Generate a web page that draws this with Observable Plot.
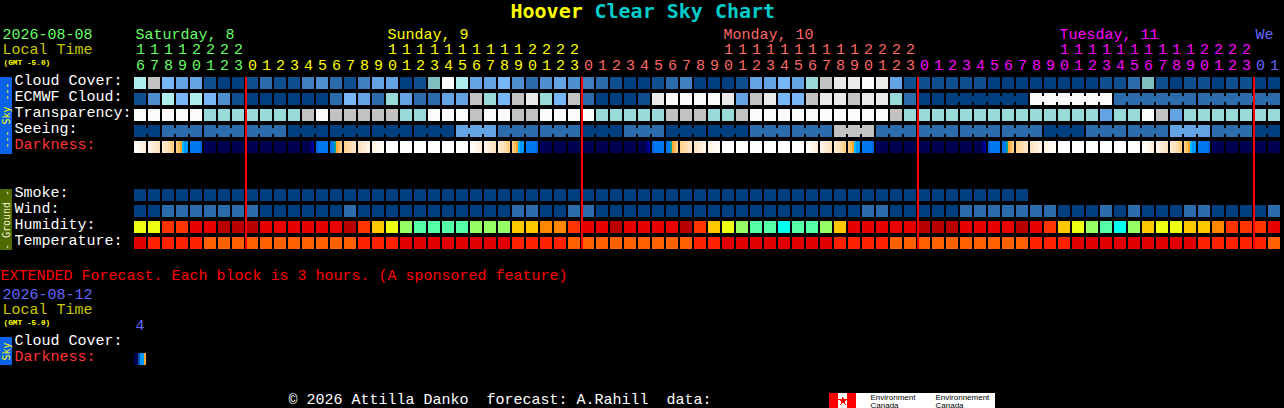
<!DOCTYPE html>
<html>
<head>
<meta charset="utf-8">
<title>Hoover Clear Sky Chart</title>
<style>
html,body{margin:0;padding:0;background:#000;overflow:hidden}
svg{display:block}
</style>
<script src="https://cdn.jsdelivr.net/npm/d3@7"></script>
<script src="https://cdn.jsdelivr.net/npm/@observablehq/plot@0.6"></script>
</head>
<body>
<div id="chart"></div>
<script>
// ---- data: one letter per hourly block ----
const hours = [16,17,18,19,20,21,22,23,
  0,1,2,3,4,5,6,7,8,9,10,11,12,13,14,15,16,17,18,19,20,21,22,23,
  0,1,2,3,4,5,6,7,8,9,10,11,12,13,14,15,16,17,18,19,20,21,22,23,
  0,1,2,3,4,5,6,7,8,9,10,11,12,13,14,15,16,17,18,19,20,21,22,23,
  0,1];
const dayNames = ["Saturday, 8","Sunday, 9","Monday, 10","Tuesday, 11","We"];
const dayLabelColumns = [0,18,42,66,80];
const midnightColumns = [8,32,56,80];

const cloudCover = [..."ijgffbaabc bbdecbdffa btliffgece fedcbaabcd aaabffgfhj kklkfbbbbb baaaaaaaab bctbabbabb aa".replace(/ /g,"")];
const ecmwfCloud = [..."beigigebaa aaaacgfchf ccffjhgjkh gjcaaabkll llkfjkggjk kjkkhcaaaa aaaallllll cccccccccc cc".replace(/ /g,"")];
const transparency = [..."lllllhhhhh hhjljjjjjh hllljlljjl lllhhhhhjj jhhjllllll lllljhhhhh hhhhhhhhhf hhljfhhhhh hh".replace(/ /g,"")];
const seeing = [..."aacccccccc caaaaaaaaa aaafffcccc ccaaacccaa aaaacccccc jjjccccccc cccccaaacc ccccfffccc aa".replace(/ /g,"")];
const smoke = [..."aaaaaaaaaa aaaaaaaaaa aaaaaaaaaa aaaaaaaaaa aaaaaaaaaa aaaaaaaaaa aaaa".replace(/ /g,"")];
const wind = [..."aaccccccca aaaaacaaaa aaaaaaacca accaaaaaaa aaaaaaaaaa aaccaaaaac ccccccaaac acaaaccaaa ac".replace(/ /g,"")];
const humidity = [..."yyRRrrDDDr rrrrrDROyg mmmmgggOOo oRrrDrrrrD ROygmmCmmg OrrrrrDDDr rrrDrROygm CgOyyOOoRR Rr".replace(/ /g,"")];
const temperature = [..."rRRRRnnnnn nnnnnnRRRr rrrrrrrRRR Rnnnnnnnnn RRrrrrrrrr RRRRnnnnnn nnnnRRRrrr rrrrrrRRRR Rn".replace(/ /g,"")];
// darkness: six stripes per block
const darkness = [
 "112334","334455","455678","89abcc","ddddde","iijjjj","jjjjjj","jjjjjj",
 "jjjjjj","jjjjjj","jjjjjj","jjjjjj","jjjjhg","eddddd","ddta98","776655","554433","332211",
 "wwwwww","wwwwww","wwwwww","wwwwww","wwwwww","wwwwww",
 "112334","334455","455678","89abcc","ddddde","iijjjj","jjjjjj","jjjjjj",
 "jjjjjj","jjjjjj","jjjjjj","jjjjjj","jjjjhg","eddddd","ddta98","776655","554433","332211",
 "wwwwww","wwwwww","wwwwww","wwwwww","wwwwww","wwwwww",
 "112334","334455","455678","89abcc","ddddde","iijjjj","jjjjjj","jjjjjj",
 "jjjjjj","jjjjjj","jjjjjj","jjjjjj","jjjjhg","eddddd","ddta98","776655","554433","332211",
 "wwwwww","wwwwww","wwwwww","wwwwww","wwwwww","wwwwww",
 "112334","334455","455678","89abcc","ddddde","iijjjj","jjjjjj","jjjjjj",
 "jjjjjj","jjjjjj"];
const extendedDarkness = ["jjfcca"];
const seeingGroupStarts = [0,2,5,8,11,14,17,20,23,26,29,32,35,38,41,44,47,50,53,56,59,62,65,68,71,74,77,80];
const ecmwfGroupStarts = [58,64,70,76];

const skyPalette = {a:"#003f7f",b:"#0f4f8f",c:"#2d6cab",d:"#3f7fbf",e:"#4f8fcf",f:"#63a3e3",g:"#77b7f7",h:"#99d9d9",i:"#aeeeee",t:"#7fbfbf",j:"#c2c2c2",k:"#eaeaea",l:"#fbfbfb"};
const humidityPalette = {y:"#eeff11",O:"#ffc800",o:"#ff8800",R:"#ff3300",r:"#e60000",D:"#b80000",g:"#99ff66",m:"#55ffaa",C:"#00ffee"};
const temperaturePalette = {r:"#e00000",R:"#ff2200",n:"#ff6000"};
const darknessPalette = {w:"#ffffff","1":"#fffcf7","2":"#fff8f0","3":"#fff3e4","4":"#ffecd8","5":"#ffe4c4","6":"#ffdcae","7":"#ffd494","8":"#ffcc80","9":"#ffbc58",a:"#ffa830",b:"#00bbff",c:"#0099ff",d:"#0077ee",e:"#0066dd",f:"#0050b0",g:"#0000a0",h:"#000080",i:"#000060",j:"#000050",t:"#00a0a0"};

// ---- scales: column number across, row number down ----
const colPx = 14, rowPx = 16, cellW = 12 / 14, cellH = 12 / 16;
const px = v => (v - 134) / colPx;
const py = v => (v - 77) / rowPx;

const tag = (p, pal) => Object.entries(pal).map(([k, c]) => [p + k, c]);
const colorPairs = [...tag("s", skyPalette), ...tag("h", humidityPalette), ...tag("t", temperaturePalette), ...tag("d", darknessPalette)];

const blockRows = [
  {values: cloudCover, row: 0, tag: "s"},
  {values: ecmwfCloud, row: 1, tag: "s"},
  {values: transparency, row: 2, tag: "s"},
  {values: seeing, row: 3, tag: "s"},
  {values: smoke, row: 7, tag: "s"},
  {values: wind, row: 8, tag: "s"},
  {values: humidity, row: 9, tag: "h"},
  {values: temperature, row: 10, tag: "t"}
];
const blocks = blockRows.flatMap(r => r.values.map((v, col) => ({col, row: r.row, key: r.tag + v})));

const bridges = [];
function addBridges(values, row, starts) {
  starts.forEach((s, i) => {
    const end = i + 1 < starts.length ? starts[i + 1] : values.length;
    for (let c = s; c < end - 1; c++) bridges.push({col: c, row, key: "s" + values[c]});
  });
}
addBridges(seeing, 3, seeingGroupStarts);
addBridges(ecmwfCloud, 1, ecmwfGroupStarts);

const stripes = (list, row) => list.flatMap((s, col) => [...s].map((k, j) => ({col, j, row, key: "d" + k})));
const darkStripes = [...stripes(darkness, 4), ...stripes(extendedDarkness, py(353))];

const rect = (d, o) => Plot.rect(d, o);
const FONT = "'Liberation Mono'";
const BANDFONT = "'DejaVu Sans Mono'";
const t = (s, x, y, fill, extra = {}) => Plot.text([s], {text: d => d, x: px(x), y: py(y), fill, fontFamily: FONT, fontSize: 15, textAnchor: "start", lineAnchor: "bottom", ...extra});

// header colours follow the day of each block
const dayColors = ["#66ff66","#ffff00","#ff6666","#ff00ff","#6666ff"];
let dayIdx = 0;
const hourCells = hours.map((h, col) => { if (col > 0 && h === 0) dayIdx++; return {col, h, day: dayIdx}; });

const bandX = {x1: px(0), x2: px(12)};
const rowLabels = [["Cloud Cover:",84,"#fff"],["ECMWF Cloud:",100,"#fff"],["Transparency:",116,"#fff"],["Seeing:",132,"#fff"],["Darkness:",148,"#ff3333"],
                   ["Smoke:",196,"#fff"],["Wind:",212,"#fff"],["Humidity:",228,"#fff"],["Temperature:",244,"#fff"],
                   ["Cloud Cover:",344,"#fff"],["Darkness:",360,"#ff3333"]];

const plot = Plot.plot({
  width: 1284, height: 408,
  marginTop: 0, marginBottom: 0, marginLeft: 0, marginRight: 0,
  style: {background: "#000", shapeRendering: "crispEdges"},
  x: {domain: [0, 82], range: [134, 1282], axis: null},
  y: {domain: [py(0), py(408)], range: [0, 408], axis: null},
  color: {type: "ordinal", domain: colorPairs.map(d => d[0]), range: colorPairs.map(d => d[1])},
  marks: [
    // band backgrounds
    Plot.rect([0], {...bandX, y1: py(77), y2: py(154), fill: "#0a62e8"}),
    Plot.rect([0], {...bandX, y1: py(189), y2: py(250), fill: "#4f6a00"}),
    Plot.rect([0], {...bandX, y1: py(337), y2: py(365), fill: "#0a62e8"}),
    // blocks
    rect(blocks, {x1: "col", x2: d => d.col + cellW, y1: "row", y2: d => d.row + cellH, fill: "key"}),
    rect(bridges, {x1: d => d.col + cellW, x2: d => d.col + 1, y1: d => d.row + 3 / rowPx, y2: d => d.row + 9 / rowPx, fill: "key"}),
    rect(darkStripes, {x1: d => d.col + d.j * cellW / 6, x2: d => d.col + (d.j + 1) * cellW / 6, y1: "row", y2: d => d.row + cellH, fill: "key"}),
    // midnight lines
    Plot.ruleX(midnightColumns, {x: d => d, y1: py(77), y2: py(249), stroke: "#ff0000", strokeWidth: 2, dx: -0.5}),
    // title
    t("Hoover", 510, 17, "#ffff00", {fontSize: 20, fontWeight: "bold", fontFamily: BANDFONT}),
    t("Clear Sky Chart", 594, 17, "#00cccc", {fontSize: 20, fontWeight: "bold", fontFamily: BANDFONT}),
    // header
    t("2026-08-08", 2, 38, "#66ff66"),
    t("Local Time", 2, 53, "#c8c800"),
    t("(GMT -5.0)", 3, 64, "#ffff00", {fontSize: 7.8, fontWeight: "bold"}),
    ...dayNames.map((n, i) => t(n, 134 + dayLabelColumns[i] * colPx + 1, 38, dayColors[i])),
    Plot.text(hourCells.filter(d => d.h >= 10), {text: d => String(Math.floor(d.h / 10)), x: d => d.col + 6 / colPx, y: py(53), fill: d => dayColors[d.day], fontFamily: FONT, fontSize: 15, textAnchor: "middle", lineAnchor: "bottom"}),
    Plot.text(hourCells, {text: d => String(d.h % 10), x: d => d.col + 6 / colPx, y: py(69), fill: d => dayColors[d.day], fontFamily: FONT, fontSize: 15, textAnchor: "middle", lineAnchor: "bottom"}),
    // row labels
    ...rowLabels.map(([s, y, c]) => t(s, 14, y, c)),
    // band labels
    t("--- Sky ---", 6, 115, "#ffff00", {fontSize: 10, fontFamily: BANDFONT, rotate: -90, textAnchor: "middle", lineAnchor: "middle"}),
    t("- Ground -", 6, 219.5, "#f4f4d0", {fontSize: 10, fontFamily: BANDFONT, rotate: -90, textAnchor: "middle", lineAnchor: "middle"}),
    t("Sky", 6, 351, "#ffff00", {fontSize: 10, fontFamily: BANDFONT, rotate: -90, textAnchor: "middle", lineAnchor: "middle"}),
    // extended forecast
    t("EXTENDED Forecast. Each block is 3 hours. (A sponsored feature)", 0, 279, "#ff0000"),
    t("2026-08-12", 2, 298, "#6666ff"),
    t("Local Time", 2, 313, "#c8c800"),
    t("(GMT -5.0)", 3, 324, "#ffff00", {fontSize: 7.8, fontWeight: "bold"}),
    t("4", 135, 329, "#6666ff"),
    // footer
    t("\u00a9 2026 Attilla Danko  forecast: A.Rahill  data:", 288, 403, "#fff"),
    Plot.rect([0], {x1: px(829), x2: px(995), y1: py(393), y2: py(408), fill: "#fff"}),
    Plot.rect([0], {x1: px(829), x2: px(838), y1: py(393), y2: py(408), fill: "#ff0000"}),
    Plot.rect([0], {x1: px(847), x2: px(856), y1: py(393), y2: py(408), fill: "#ff0000"}),
    Plot.dot([0], {x: px(842.5), y: py(400.5), r: 3, fill: "#ff0000", symbol: "star"}),
    t("Environment", 870, 399, "#000", {fontSize: 8, fontFamily: "'Liberation Sans'"}),
    t("Canada", 870, 407, "#000", {fontSize: 8, fontFamily: "'Liberation Sans'"}),
    t("Environnement", 935, 399, "#000", {fontSize: 8, fontFamily: "'Liberation Sans'"}),
    t("Canada", 935, 407, "#000", {fontSize: 8, fontFamily: "'Liberation Sans'"})
  ]
});
document.getElementById("chart").appendChild(plot);
</script>
</body>
</html>
